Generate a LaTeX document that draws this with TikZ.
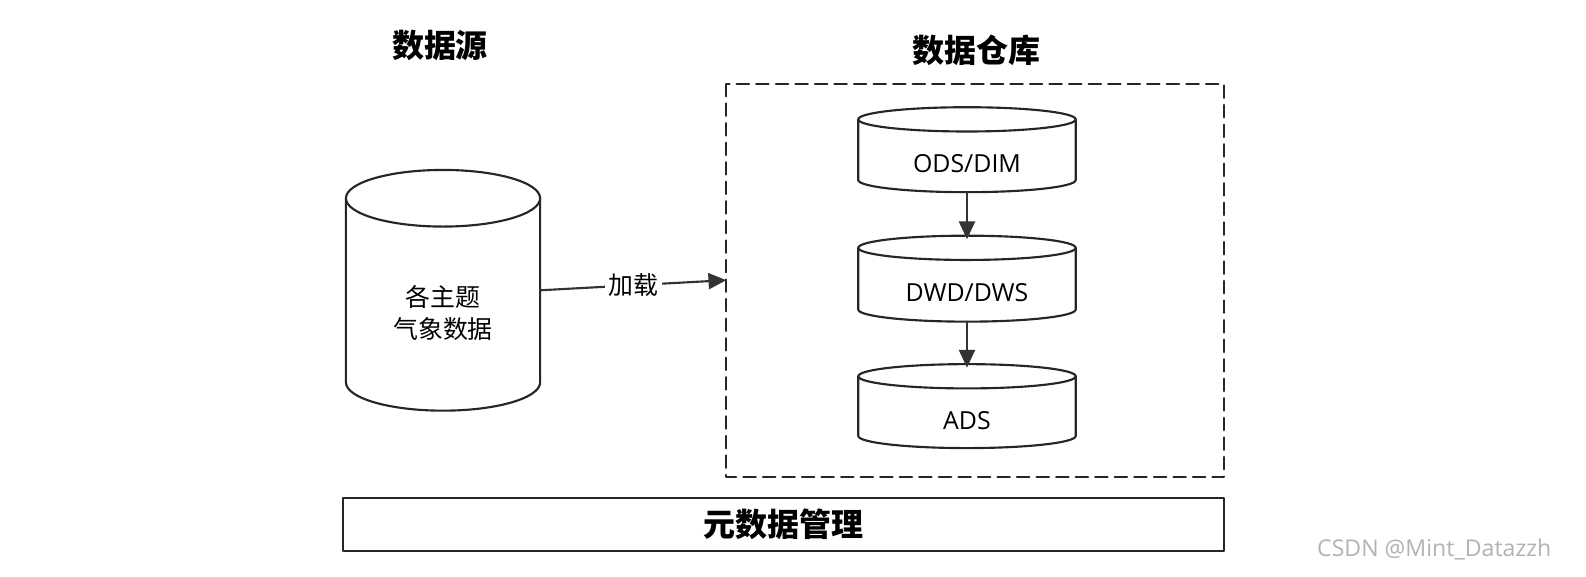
\documentclass[tikz,border=0pt]{standalone}
\usepackage{fontspec}
\setmainfont{Noto Sans CJK SC}
\newfontfamily\latinfont{Open Sans}
\usetikzlibrary{arrows.meta,positioning}

\tikzset{
  edge/.style={draw=black!85, line width=1.2pt},
  flow/.style={-{Triangle[length=10pt,width=9pt]}, line width=1.2pt, draw=black!80},
  title/.style={font=\fontsize{18}{22}\selectfont\bfseries},
  body/.style={font=\fontsize{14}{18}\selectfont, align=center}
}
% \dbcyl{name}{cx}{top}{bottom}{rx}{ry}{text}
\newcommand{\dbcyl}[7]{%
  \draw[edge, fill=white] (#2,#3) ellipse [x radius=#5, y radius=#6];
  \draw[edge] (#2-#5,#3) -- (#2-#5,#4) arc[start angle=180, end angle=0, x radius=#5, y radius=#6] -- (#2+#5,#3);
  \coordinate (#1-top) at (#2,#3-#6);
  \coordinate (#1-bot) at (#2,#4+#6);
  \node[body] (#1) at (#2,{(#3+#4)/2+#6/2+8}) {#7};
}

\begin{document}
\begin{tikzpicture}[line cap=round,line join=round,x=0.02cm,y=-0.02cm]
\useasboundingbox (0,0) rectangle (1568,569.5);
% titles
\node[title] (srcT) at (435,45) {数据源};
\node[title] (dwT) at (965,50) {数据仓库};
% source
\dbcyl{src}{438}{196}{378}{96}{28}{各主题\\气象数据}
\coordinate (srcOut) at (534,287);
% warehouse
\draw[edge, dash pattern=on 7pt off 4pt] (718,83) rectangle (1210,472);
\coordinate (dwIn) at (718,277);
\dbcyl{ods}{956}{118}{178}{107.5}{12}{\latinfont ODS/DIM}
\dbcyl{dwd}{956}{245}{306}{107.5}{12}{\latinfont DWD/DWS}
\dbcyl{ads}{956}{372}{431}{107.5}{12}{\latinfont ADS}
\draw[flow] (ods-bot) -- ([yshift=-2pt]dwd-top);
\draw[flow] (dwd-bot) -- ([yshift=-2pt]ads-top);
\draw[flow] (srcOut) -- node[fill=white, inner sep=2pt, body] {加载} (dwIn);
% metadata
\draw[edge] (339,492) rectangle (1210,545);
\node[title] (meta) at (774.5,518.5) {元数据管理};
\node[text=black!30, font=\latinfont\fontsize{13}{16}\selectfont] (mark) at (1418,543) {CSDN @Mint\_Datazzh};
\end{tikzpicture}
\end{document}
